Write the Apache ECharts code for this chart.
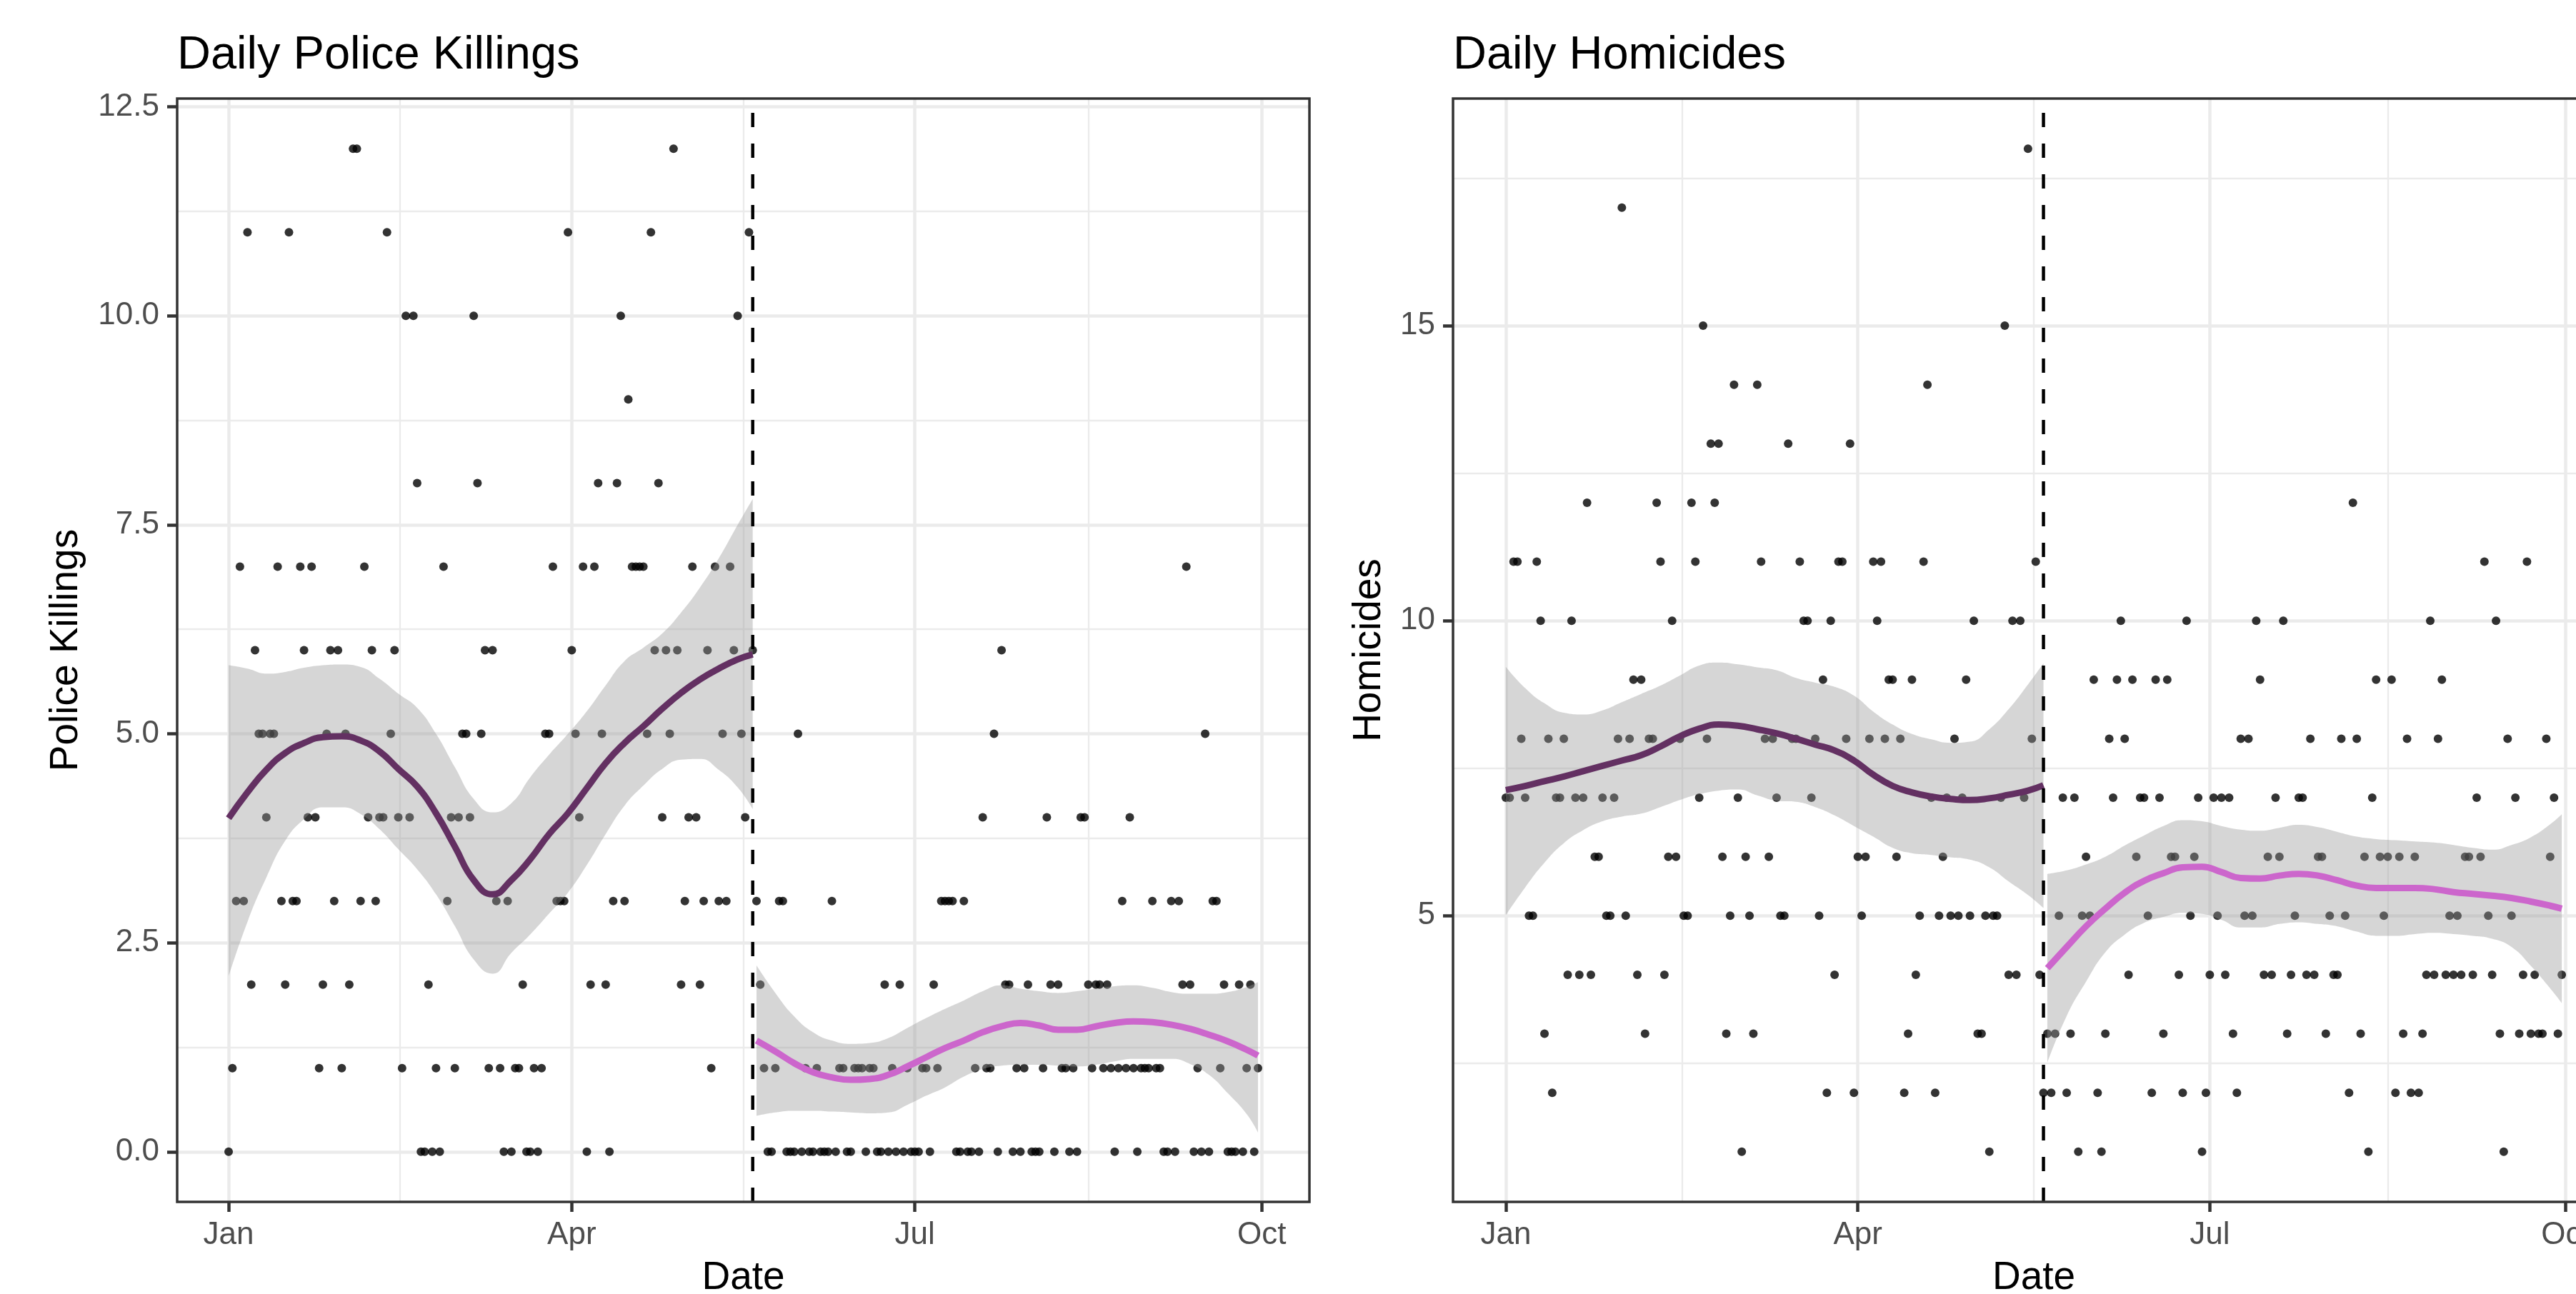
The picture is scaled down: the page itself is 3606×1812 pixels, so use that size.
<!DOCTYPE html>
<html><head><meta charset="utf-8">
<script src="https://cdn.jsdelivr.net/npm/echarts@6/dist/echarts.min.js"></script>
<style>html,body{margin:0;padding:0;background:#fff;overflow:hidden}#chart{width:3700px;height:1812px}</style>
</head><body><div id="chart"></div>
<script>
// ---- axis ticks (days since Jan 1, 2020) ----
const xTickDays = [0, 91, 182, 274];
const xTickLabels = ['Jan', 'Apr', 'Jul', 'Oct'];
const xMinorDays = [45.5, 136.5, 228];
const cutoffDay = 139;
const postStartDay = 140;
const policeYTicks = [0, 2.5, 5, 7.5, 10, 12.5];
const policeYMinor = [1.25, 3.75, 6.25, 8.75, 11.25];
const homicideYTicks = [5, 10, 15];
const homicideYMinor = [2.5, 7.5, 12.5, 17.5];

// ---- daily counts (index 0 = Jan 1) ----
const policePre = [
  0,1,3,7,3,11,2,6,5,5, 4,5,5,7,3,2,11,3,3,7, 6,4,7,4,1,2,5,6,3,6,
  1,5,2,12,12,3,7,4,6,3, 4,4,11,5,6,4,1,10,4,10, 8,0,0,2,0,1,0,7,3,4,
  1,4,5,5,4,10,8,5,6,1, 6,3,1,0,3,0,1,1,2,0, 0,1,0,1,5,5,7,3,3,3,
  11,6,5,4,7,0,2,7,8,5, 2,0,3,8,10,3,9,7,7,7, 7,5,11,6,8,4,6,5,12,6,
  2,3,4,7,4,2,3,6,1,7, 3,5,3,7,6,10,5,4,11,6
];
const policePost = [
  3,2,1,0,0,1,3,3,0,0, 0,5,0,1,0,0,1,0,0,0, 3,0,1,1,0,0,1,1,1,0,
  1,1,0,0,2,0,1,0,2,0, 1,0,0,0,1,1,0,2,1,3, 3,3,3,0,0,3,0,0,1,0,
  4,1,1,5,0,6,2,2,0,1, 0,1,2,0,0,0,1,4,2,0, 2,1,1,0,1,0,4,4,2,1,
  2,2,1,2,1,0,1,3,1,4, 1,0,1,1,1,3,1,1,0,0, 3,0,3,2,7,2,0,1,0,5,
  0,3,3,1,2,0,0,0,2,0, 1,2,0,1
];
const homicidePre = [
  7,7,11,11,8,7,5,5,11,10, 3,8,2,7,7,8,4,10,7,4, 7,12,4,6,6,7,5,5,7,8,
  17,5,8,9,4,9,3,8,8,12, 11,4,6,10,6,8,5,5,12,11, 7,15,8,13,12,13,6,3,5,14,
  7,1,6,5,3,14,11,8,6,8, 7,5,5,13,8,8,11,10,10,7, 8,5,9,2,10,4,11,11,8,13,
  2,6,5,6,8,11,10,11,8,9, 9,6,8,2,3,9,4,5,11,14, 7,2,5,6,7,5,8,5,7,9,
  5,10,3,3,5,1,5,5,7,15, 4,10,4,10,7,18,8,11,4,2
];
const homicidePost = [
  3,2,3,5,7,2,3,7,1,5, 6,5,9,2,1,3,8,7,9,10, 8,4,9,6,7,7,5,2,9,7,
  3,9,6,6,4,2,10,5,6,7, 1,2,4,7,5,7,4,7,3,2, 8,5,8,5,10,9,4,6,4,7,
  6,10,3,4,5,7,7,4,8,4, 6,6,3,5,4,4,8,5,2,12, 8,3,6,1,7,9,6,5,6,9,
  2,6,3,8,2,6,2,3,4,10, 4,8,9,4,5,4,5,4,6,6, 4,7,6,11,5,4,10,3,1,8,
  5,7,3,4,11,3,4,3,3,8, 6,7,3,4
];

// ---- smoothed fits and confidence bands ----
const preSmoothDays = [0,5,10,15,20,25,30,35,40,45,50,55,60,65,70,75,80,85,90,95,100,105,110,115,120,125,130,135,139];
const postSmoothDays = [140,145,150,155,160,165,170,175,180,185,190,195,200,205,210,215,220,225,230,235,240,245,250,255,260,265,270,273];

const policePreFit  = [3.99,4.3,4.57,4.77,4.89,4.96,4.97,4.92,4.79,4.58,4.37,4.05,3.65,3.25,3.08,3.25,3.5,3.8,4.05,4.35,4.65,4.89,5.09,5.3,5.49,5.65,5.78,5.89,5.95];
const policePreLow  = [2.1,2.75,3.28,3.72,3.98,4.12,4.12,4.04,3.86,3.62,3.38,3.08,2.7,2.3,2.13,2.38,2.6,2.85,3.1,3.43,3.8,4.14,4.38,4.58,4.69,4.7,4.57,4.36,4.1];
const policePreHigh = [5.82,5.78,5.72,5.74,5.79,5.82,5.83,5.8,5.66,5.48,5.31,5.0,4.6,4.22,4.06,4.17,4.48,4.75,5.0,5.27,5.58,5.87,6.03,6.2,6.45,6.75,7.1,7.5,7.81];
const policePostFit  = [1.33,1.2,1.06,0.95,0.89,0.86,0.87,0.92,1.02,1.13,1.24,1.33,1.43,1.5,1.54,1.51,1.46,1.46,1.5,1.54,1.56,1.55,1.52,1.47,1.4,1.32,1.22,1.15];
const policePostLow  = [0.43,0.47,0.49,0.49,0.48,0.47,0.46,0.47,0.56,0.67,0.77,0.9,0.99,1.03,1.04,1.04,1.03,1.02,1.04,1.08,1.11,1.11,1.11,1.05,0.92,0.7,0.45,0.23];
const policePostHigh = [2.23,1.9,1.62,1.43,1.33,1.29,1.3,1.36,1.48,1.6,1.71,1.81,1.92,1.99,1.95,1.92,1.9,1.92,1.95,1.98,1.99,1.96,1.91,1.89,1.89,1.91,1.97,2.03];

const homicidePreFit  = [7.13,7.2,7.28,7.36,7.45,7.54,7.63,7.72,7.87,8.04,8.17,8.24,8.22,8.16,8.09,8.0,7.9,7.8,7.63,7.39,7.2,7.09,7.02,6.98,6.96,6.99,7.05,7.12,7.21];
const homicidePreLow  = [5.01,5.48,5.9,6.23,6.45,6.6,6.68,6.73,6.84,6.96,7.06,7.12,7.14,7.04,6.95,6.93,6.84,6.7,6.52,6.34,6.15,6.06,6.03,5.99,5.95,5.82,5.58,5.35,5.13];
const homicidePreHigh = [9.22,8.86,8.6,8.44,8.41,8.48,8.62,8.76,8.9,9.07,9.24,9.29,9.26,9.21,9.16,9.03,8.95,8.88,8.73,8.46,8.24,8.08,7.99,7.93,7.95,8.16,8.5,8.92,9.28];
const homicidePostFit  = [4.11,4.47,4.82,5.12,5.39,5.59,5.72,5.82,5.83,5.74,5.64,5.63,5.68,5.71,5.68,5.6,5.51,5.47,5.47,5.47,5.45,5.4,5.37,5.34,5.3,5.24,5.17,5.12];
const homicidePostLow  = [2.51,3.3,3.88,4.38,4.68,4.88,4.98,5.05,5.03,4.93,4.8,4.8,4.86,4.89,4.86,4.82,4.73,4.66,4.66,4.69,4.71,4.69,4.66,4.61,4.47,4.15,3.77,3.52];
const homicidePostHigh = [5.71,5.77,5.87,6.0,6.19,6.36,6.52,6.62,6.6,6.52,6.46,6.44,6.49,6.54,6.5,6.42,6.34,6.3,6.28,6.26,6.24,6.2,6.15,6.12,6.2,6.33,6.55,6.72];

// ---- styling ----
const FONT = '"Liberation Sans", Arial, Helvetica, sans-serif';
const PRE_COLOR = '#633062';
const POST_COLOR = '#CC66CC';
const BAND_COLOR = 'rgba(153,153,153,0.4)';
const GRID_COLOR = '#EBEBEB';
const X_MIN = -13.65, X_MAX = 286.65;
const panels = [
  { title: 'Daily Police Killings', yName: 'Police Killings', left: 248, width: 1585, yMin: -0.6, yMax: 12.6,
    yTicks: policeYTicks, yMinor: policeYMinor, yFmt: v => v.toFixed(1), yNameGap: 128,
    pre: policePre, post: policePost,
    preFit: policePreFit, preLow: policePreLow, preHigh: policePreHigh,
    postFit: policePostFit, postLow: policePostLow, postHigh: policePostHigh },
  { title: 'Daily Homicides', yName: 'Homicides', left: 2034, width: 1626, yMin: 0.15, yMax: 18.85,
    yTicks: homicideYTicks, yMinor: homicideYMinor, yFmt: v => String(v), yNameGap: 90,
    pre: homicidePre, post: homicidePost,
    preFit: homicidePreFit, preLow: homicidePreLow, preHigh: homicidePreHigh,
    postFit: homicidePostFit, postLow: homicidePostLow, postHigh: homicidePostHigh }
];
const TOP = 138, HEIGHT = 1545;

const grids = [], xAxes = [], yAxes = [], series = [], titles = [];
panels.forEach((p, gi) => {
  grids.push({ left: p.left, top: TOP, width: p.width, height: HEIGHT, show: true, z: 10,
    outerBoundsMode: 'none', containLabel: false,
    backgroundColor: 'transparent', borderColor: '#333333', borderWidth: 3.5 });
  titles.push({ text: p.title, left: p.left, top: 46, padding: 0,
    textStyle: { fontSize: 65, fontWeight: 'normal', color: '#000', fontFamily: FONT } });
  const xi = xAxes.length, yi = yAxes.length;
  xAxes.push({ type: 'value', gridIndex: gi, min: X_MIN, max: X_MAX,
    axisLine: { show: false, onZero: false },
    axisTick: { show: true, customValues: xTickDays, length: 14, lineStyle: { color: '#333333', width: 4.5 } },
    axisLabel: { customValues: xTickDays, formatter: v => xTickLabels[xTickDays.indexOf(v)], margin: 25,
      color: '#4D4D4D', fontSize: 44, fontFamily: FONT },
    splitLine: { show: true, lineStyle: { color: GRID_COLOR, width: 4.5 } },
    name: 'Date', nameLocation: 'middle', nameGap: 79,
    nameTextStyle: { fontSize: 55, color: '#000', fontFamily: FONT } });
  xAxes.push({ type: 'value', gridIndex: gi, min: X_MIN, max: X_MAX,
    axisLine: { show: false, onZero: false }, axisTick: { show: false, customValues: xMinorDays },
    axisLabel: { show: false }, splitLine: { show: true, lineStyle: { color: GRID_COLOR, width: 2.3 } } });
  yAxes.push({ type: 'value', gridIndex: gi, min: p.yMin, max: p.yMax,
    axisLine: { show: false, onZero: false },
    axisTick: { show: true, customValues: p.yTicks, length: 14, lineStyle: { color: '#333333', width: 4.5 } },
    axisLabel: { customValues: p.yTicks, formatter: p.yFmt, margin: 25, color: '#4D4D4D', fontSize: 44, fontFamily: FONT },
    splitLine: { show: true, lineStyle: { color: GRID_COLOR, width: 4.5 } },
    name: p.yName, nameLocation: 'middle', nameGap: p.yNameGap,
    nameTextStyle: { fontSize: 55, color: '#000', fontFamily: FONT } });
  yAxes.push({ type: 'value', gridIndex: gi, min: p.yMin, max: p.yMax,
    axisLine: { show: false, onZero: false }, axisTick: { show: false, customValues: p.yMinor },
    axisLabel: { show: false }, splitLine: { show: true, lineStyle: { color: GRID_COLOR, width: 2.3 } } });

  const pts = p.pre.map((v, i) => [i, v]).concat(p.post.map((v, i) => [postStartDay + i, v]));
  series.push({ type: 'scatter', xAxisIndex: xi, yAxisIndex: yi, data: pts, symbolSize: 12,
    itemStyle: { color: '#000' }, z: 2, silent: true });

  const seg = (days, fit, low, high, color, key) => {
    // value first, day second, so the stack is applied on the y (value) dimension
    series.push({ type: 'line', xAxisIndex: xi, yAxisIndex: yi, stack: key, smooth: true, symbol: 'none',
      encode: { x: 1, y: 0 },
      data: days.map((d, i) => [low[i], d]), lineStyle: { width: 0, opacity: 0 }, z: 3, silent: true });
    series.push({ type: 'line', xAxisIndex: xi, yAxisIndex: yi, stack: key, smooth: true, symbol: 'none',
      encode: { x: 1, y: 0 },
      data: days.map((d, i) => [+(high[i] - low[i]).toFixed(3), d]), lineStyle: { width: 0, opacity: 0 },
      areaStyle: { color: BAND_COLOR, opacity: 1 }, z: 3, silent: true });
    series.push({ type: 'line', xAxisIndex: xi, yAxisIndex: yi, smooth: true, symbol: 'none',
      data: days.map((d, i) => [d, fit[i]]), lineStyle: { width: 9, color: color }, z: 4, silent: true });
  };
  seg(preSmoothDays, p.preFit, p.preLow, p.preHigh, PRE_COLOR, 'pre' + gi);
  seg(postSmoothDays, p.postFit, p.postLow, p.postHigh, POST_COLOR, 'post' + gi);

  series.push({ type: 'line', xAxisIndex: xi, yAxisIndex: yi, symbol: 'none', silent: true,
    data: [[cutoffDay, p.yMin], [cutoffDay, p.yMax]],
    lineStyle: { color: '#000', width: 4.5, type: [20, 23] }, z: 5 });
});

const chart = echarts.init(document.getElementById('chart'), null, { renderer: 'canvas' });
chart.setOption({
  animation: false,
  backgroundColor: '#ffffff',
  title: titles,
  grid: grids,
  xAxis: xAxes,
  yAxis: yAxes,
  series: series
});
</script>
</body></html>
